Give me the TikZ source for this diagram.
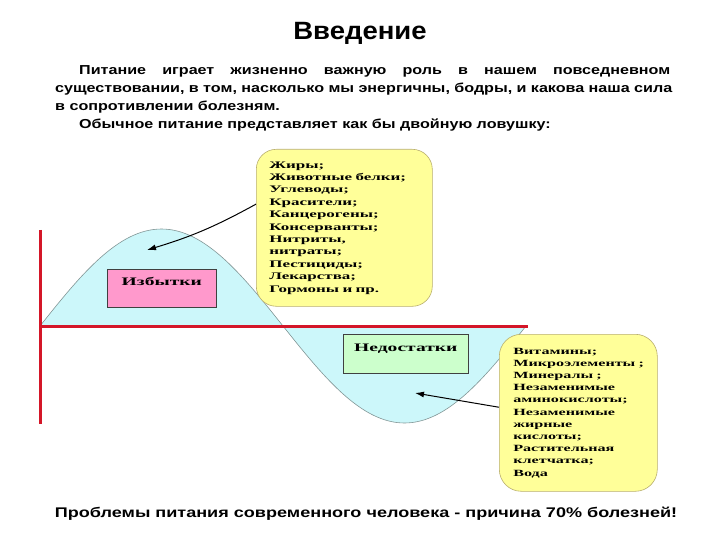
\documentclass[tikz,border=0pt]{standalone}
\usepackage{fontspec}
\usetikzlibrary{arrows.meta}
\setmainfont{Liberation Sans}
\newfontfamily\parafont[FakeStretch=1.24]{Liberation Sans}
\newfontfamily\bottomfont[FakeStretch=1.29]{Liberation Sans}
\newfontfamily\titlefont[FakeStretch=1.1]{Liberation Sans}
\newfontfamily\boxfont[FakeStretch=1.7]{Liberation Serif}
\definecolor{redline}{RGB}{212,22,40}
\definecolor{bluefill}{RGB}{204,247,250}
\definecolor{curveline}{RGB}{130,150,150}
\definecolor{yfill}{RGB}{255,255,153}
\definecolor{yborder}{RGB}{185,175,110}
\definecolor{pinkfill}{RGB}{255,153,204}
\definecolor{greenfill}{RGB}{204,255,204}
\tikzset{
  paratext/.style={anchor=base west, inner sep=0pt, font=\parafont\bfseries\fontsize{13}{16}\selectfont},
  ybox/.style={draw=yborder, line width=0.6pt, fill=yfill, rounded corners=20pt, anchor=north west,
    align=left, inner ysep=4pt, font=\boxfont\bfseries\fontsize{10}{12.4}\selectfont},
  labelbox/.style={draw=black!75, line width=0.6pt, anchor=north west, inner xsep=0pt, inner ysep=3pt,
    font=\boxfont\bfseries\fontsize{11.5}{13}\selectfont},
  arr/.style={line width=1pt, -{Latex[length=9pt,width=6pt]}},
}
\begin{document}
\begin{tikzpicture}[x=1pt,y=-1pt]
\useasboundingbox (0,0) rectangle (720,540);
% title
\node[anchor=base, inner sep=0pt, font=\titlefont\bfseries\fontsize{25}{30}\selectfont] (title) at (360,40) {Введение};
% paragraph
\node[paratext] (p1) at (79,74.5) {\makebox[591pt][s]{Питание играет жизненно важную роль в нашем повседневном}};
\node[paratext] (p2) at (55,92.5) {\makebox[617pt][s]{существовании, в том, насколько мы энергичны, бодры, и какова наша сила}};
\node[paratext] (p3) at (55,110.5) {в сопротивлении болезням.};
\node[paratext] (p4) at (79,128.5) {Обычное питание представляет как бы двойную ловушку:};
% wave
\fill[bluefill] plot[domain=40:526,samples=121,smooth] (\x,{326-97*sin((\x-40)*0.74074)}) -- cycle;
\draw[curveline, line width=0.6pt] plot[domain=40:526,samples=121,smooth] (\x,{326-97*sin((\x-40)*0.74074)});
% axes
\coordinate (o) at (40,326);
\coordinate (vtop) at (40,230);
\coordinate (vbot) at (40,424);
\coordinate (hend) at (528,326);
\draw[redline, line width=3pt] (vtop) -- (vbot);
\draw[redline, line width=3pt] (o) -- (hend);
% label boxes
\node[labelbox, fill=pinkfill, minimum width=109pt, text height=13pt, text depth=19pt] (izb) at (107,269) {Избытки};
\node[labelbox, fill=greenfill, minimum width=125pt, text height=14pt, text depth=19pt] (ned) at (343,334) {Недостатки};
% yellow boxes
\node[ybox, minimum width=176pt, minimum height=157pt, inner xsep=13pt, text width=150pt] (box1) at (256,149) {Жиры;\\Животные белки;\\Углеводы;\\Красители;\\Канцерогены;\\Консерванты;\\Нитриты,\\нитраты;\\Пестициды;\\Лекарства;\\Гормоны и пр.};
\node[ybox, rounded corners=22pt, minimum width=158pt, minimum height=157pt, inner xsep=14pt, text width=130pt,
  font=\boxfont\bfseries\fontsize{9.5}{12.2}\selectfont] (box2) at (499,334) {Витамины;\\Микроэлементы~;\\Минералы ;\\Незаменимые\\аминокислоты;\\Незаменимые\\жирные\\кислоты;\\Растительная\\клетчатка;\\Вода};
% arrows
\coordinate (t1) at (147,250);
\coordinate (t2) at (415,393);
\draw[arr] (box1.165) to[bend left=6] (t1);
\draw[arr] (box2.176) -- (t2);
% bottom
\node[anchor=base, inner sep=0pt, font=\bottomfont\bfseries\fontsize{14}{17}\selectfont] (bottom) at (366,517) {Проблемы питания современного человека - причина 70\% болезней!};
\end{tikzpicture}
\end{document}
